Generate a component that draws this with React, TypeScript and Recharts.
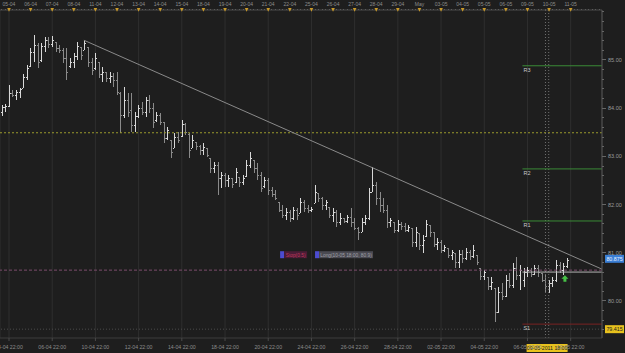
import React from "react";
import {
  ComposedChart,
  Bar,
  XAxis,
  YAxis,
  CartesianGrid,
  ReferenceLine,
  ReferenceDot,
} from "recharts";

// 4H bars, 04-04 14:00 .. 10-05 18:00 (index = bar number)
const highs = [
  84.07, 84.09, 84.48, 84.38, 84.38, 84.42, 84.71, 84.9, 85.25, 85.52,
  85.35, 85.35, 85.48, 85.48, 85.5, 85.37, 85.31, 85.25, 85.25, 85.04,
  85.15, 85.37, 85.27, 85.41, 85.27, 85.04, 85.15, 84.96, 84.85, 84.75,
  84.75, 84.73, 84.75, 84.34, 84.44, 84.32, 84.32, 83.92, 84.07, 84.13,
  84.23, 84.27, 84.11, 83.92, 83.9, 83.71, 83.61, 83.34, 83.49, 83.51,
  83.76, 83.69, 83.49, 83.44, 83.3, 83.24, 83.28, 83.17, 82.97, 82.88,
  82.88, 82.68, 82.66, 82.61, 82.55, 82.76, 82.57, 82.61, 82.93, 83.09,
  82.93, 82.86, 82.68, 82.57, 82.55, 82.37, 82.3, 82.05, 81.99, 81.93,
  81.89, 81.95, 81.93, 82.14, 82.1, 81.99, 81.95, 82.41, 82.24, 82.16,
  82.1, 81.95, 81.93, 81.89, 81.83, 81.72, 81.78, 81.93, 81.72, 81.54,
  81.72, 81.78, 82.34, 82.78, 82.47, 82.26, 82.14, 81.99, 81.72, 81.64,
  81.68, 81.64, 81.62, 81.58, 81.51, 81.54, 81.41, 81.37, 81.68, 81.58,
  81.43, 81.31, 81.27, 81.16, 81.1, 81.06, 81.0, 81.06, 81.06, 81.1,
  81.06, 81.16, 80.95, 80.68, 80.64, 80.5, 80.5, 80.27, 80.29, 80.37,
  80.54, 80.58, 80.79, 80.91, 80.75, 80.68, 80.71, 80.68, 80.75, 80.75,
  80.58, 80.54, 80.44, 80.5, 80.85, 80.81, 80.79, 80.89,
];
const lows = [
  83.84, 83.92, 84.02, 84.23, 84.17, 84.21, 84.42, 84.59, 84.85, 84.96,
  84.83, 84.96, 85.17, 85.25, 85.27, 85.17, 85.15, 84.94, 84.59, 84.83,
  84.83, 85.0, 85.0, 85.21, 84.85, 84.69, 84.79, 84.63, 84.54, 84.54,
  84.52, 84.44, 84.27, 83.49, 83.8, 83.82, 83.51, 83.51, 83.8, 83.86,
  83.82, 83.9, 83.59, 83.71, 83.65, 83.28, 83.34, 82.97, 83.17, 83.28,
  83.4, 83.44, 82.97, 83.17, 83.13, 83.03, 83.03, 82.99, 82.66, 82.66,
  82.2, 82.34, 82.37, 82.37, 82.34, 82.45, 82.37, 82.41, 82.57, 82.76,
  82.66, 82.51, 82.26, 82.34, 82.2, 82.16, 82.1, 81.85, 81.72, 81.68,
  81.64, 81.68, 81.68, 81.83, 81.85, 81.83, 81.85, 82.03, 82.05, 81.89,
  81.89, 81.72, 81.64, 81.54, 81.58, 81.62, 81.62, 81.54, 81.47, 81.27,
  81.43, 81.58, 81.68, 82.26, 81.99, 81.85, 81.83, 81.51, 81.54, 81.41,
  81.43, 81.47, 81.43, 81.43, 81.12, 81.12, 81.06, 81.0, 81.33, 81.33,
  81.12, 81.06, 81.0, 81.02, 80.89, 80.85, 80.68, 80.68, 80.79, 80.85,
  80.85, 80.89, 80.75, 80.44, 80.44, 80.23, 80.23, 79.56, 79.75, 80.02,
  80.08, 80.27, 80.27, 80.44, 80.23, 80.29, 80.5, 80.5, 80.54, 80.5,
  80.39, 80.19, 80.17, 80.29, 80.39, 80.58, 80.54, 80.68,
];
const opens = [
  83.92, 84.02, 84.05, 84.32, 84.27, 84.34, 84.42, 84.65, 84.88, 85.17,
  85.31, 85.0, 85.29, 85.41, 85.33, 85.37, 85.25, 85.21, 85.04, 84.88,
  84.96, 85.08, 85.27, 85.21, 85.27, 84.96, 84.83, 84.96, 84.71, 84.75,
  84.63, 84.67, 84.59, 84.32, 83.86, 84.17, 83.96, 83.65, 83.84, 84.0,
  83.92, 84.17, 84.0, 83.76, 83.86, 83.71, 83.38, 83.34, 83.17, 83.4,
  83.42, 83.67, 83.46, 83.17, 83.3, 83.22, 83.13, 83.17, 82.97, 82.76,
  82.82, 82.55, 82.61, 82.51, 82.55, 82.47, 82.57, 82.47, 82.59, 82.82,
  82.93, 82.76, 82.61, 82.39, 82.51, 82.3, 82.22, 82.05, 81.89, 81.78,
  81.85, 81.72, 81.89, 81.83, 82.05, 81.93, 81.89, 82.03, 82.24, 82.14,
  81.99, 81.95, 81.78, 81.85, 81.64, 81.72, 81.66, 81.74, 81.64, 81.51,
  81.43, 81.64, 81.72, 82.26, 82.41, 82.14, 81.99, 81.89, 81.64, 81.64,
  81.47, 81.6, 81.56, 81.47, 81.51, 81.22, 81.41, 81.16, 81.35, 81.58,
  81.43, 81.18, 81.22, 81.06, 81.1, 80.95, 81.0, 80.81, 80.98, 80.89,
  81.02, 80.93, 80.95, 80.68, 80.52, 80.5, 80.31, 80.27, 79.77, 80.19,
  80.1, 80.44, 80.33, 80.68, 80.54, 80.44, 80.6, 80.64, 80.56, 80.68,
  80.58, 80.44, 80.31, 80.37, 80.44, 80.75, 80.64, 80.73,
];
const closes = [
  84.02, 84.05, 84.32, 84.27, 84.34, 84.4, 84.65, 84.83, 85.17, 85.31,
  84.96, 85.29, 85.41, 85.33, 85.41, 85.25, 85.21, 85.04, 84.75, 84.96,
  85.08, 85.29, 85.1, 85.35, 84.96, 84.79, 85.04, 84.71, 84.75, 84.63,
  84.67, 84.59, 84.34, 83.86, 84.17, 83.92, 83.65, 83.84, 84.0, 83.92,
  84.17, 84.0, 83.71, 83.86, 83.71, 83.38, 83.55, 83.09, 83.4, 83.34,
  83.67, 83.51, 83.13, 83.34, 83.22, 83.13, 83.2, 83.03, 82.76, 82.82,
  82.55, 82.61, 82.51, 82.55, 82.43, 82.68, 82.47, 82.55, 82.82, 82.97,
  82.76, 82.61, 82.34, 82.51, 82.3, 82.22, 82.14, 81.89, 81.78, 81.85,
  81.72, 81.89, 81.78, 82.05, 81.93, 81.89, 81.91, 82.26, 82.14, 81.99,
  82.05, 81.78, 81.85, 81.64, 81.72, 81.66, 81.74, 81.64, 81.51, 81.43,
  81.64, 81.72, 82.26, 82.41, 82.14, 81.99, 81.89, 81.64, 81.68, 81.47,
  81.6, 81.56, 81.47, 81.54, 81.22, 81.43, 81.16, 81.27, 81.6, 81.43,
  81.18, 81.22, 81.06, 81.12, 80.95, 81.02, 80.81, 80.98, 80.89, 81.02,
  80.93, 81.06, 80.81, 80.52, 80.6, 80.31, 80.39, 79.77, 80.19, 80.1,
  80.44, 80.33, 80.68, 80.54, 80.64, 80.6, 80.64, 80.56, 80.68, 80.6,
  80.44, 80.31, 80.37, 80.44, 80.75, 80.64, 80.73, 80.85,
];

const dayLabels = [
  "05-04", "06-04", "07-04", "08-04", "11-04", "12-04", "13-04", "14-04",
  "15-04", "18-04", "19-04", "20-04", "21-04", "22-04", "25-04", "26-04",
  "27-04", "28-04", "29-04", "May", "03-05", "04-05", "05-05", "06-05",
  "09-05", "10-05", "11-05",
];
const sessionLabels = [
  "04-04 22:00", "06-04 22:00", "10-04 22:00", "12-04 22:00", "14-04 22:00",
  "18-04 22:00", "20-04 22:00", "24-04 22:00", "26-04 22:00", "28-04 22:00",
  "02-05 22:00", "04-05 22:00", "06-05 22:00", "10-05 22:00",
];
const priceLabels = [80, 81, 82, 83, 84, 85];

// levels
const pivotNames = ["R3", "R2", "R1", "S1"];
const pivotLevels = [84.88, 82.74, 81.66, 79.52];
const pivotStart = 144.6;
const dottedLevel = 83.49;
const entryLevel = 80.64;
const positionLevel = 80.6;
const trendStart = { x: 22.8, y: 85.41 };
const trendEnd = { x: 166.7, y: 80.66 };
const lastPrice = 80.875;
const cursorPrice = 79.415;
const cursorBar = 151;
const cursorText = "09-05-2011 18:00";
const signalBar = 156.4;
const signalPrice = 80.46;

const X_DOMAIN: [number, number] = [-0.5, 166.7];
const Y_DOMAIN: [number, number] = [79.232, 86.037];
const FONT = "'Liberation Sans', Arial, sans-serif";

const rows = highs.map((h, i) => ({
  i,
  range: [lows[i], h],
  high: h,
  low: lows[i],
  open: opens[i],
  close: closes[i],
}));

const topTicks = Array.from({ length: 167 }, (_, k) => k);
const sessionTicks = sessionLabels.map((_, k) => 2 + 12 * k);
const priceTicks = Array.from({ length: 34 }, (_, k) => +(79.4 + 0.2 * k).toFixed(1));

const OhlcBar = (props: any) => {
  const { x, y, width, height, payload } = props;
  if (!payload) return null;
  const top = Math.min(y, y + height);
  const h = Math.abs(height);
  const cx = Math.round(x + width / 2);
  const { high, low, open, close } = payload;
  const py = (v: number) => Math.round(top + ((high - v) / (high - low)) * h);
  const color = close >= open ? "#d8d8d8" : "#8a8a8a";
  return (
    <g shapeRendering="crispEdges">
      <rect x={cx} y={top} width={1} height={Math.max(1, h)} fill={color} />
      <rect x={cx - 1} y={py(open)} width={1} height={1} fill={color} />
      <rect x={cx + 1} y={py(close)} width={1} height={1} fill={color} />
    </g>
  );
};

const TopTick = (props: any) => {
  const { x, y, payload } = props;
  const idx = payload.value;
  const d = (idx - 2) / 6;
  const isDay = Number.isInteger(d) && d >= 0 && d < dayLabels.length;
  if (!isDay) {
    return <line x1={x} x2={x} y1={y - 1.5} y2={y} stroke="#5a5a5a" shapeRendering="crispEdges" />;
  }
  return (
    <g>
      <text x={x} y={y - 4} textAnchor="middle" fontSize={5} fill="#8c8c8c" fontFamily={FONT}>
        {dayLabels[d]}
      </text>
      <path d={`M${x - 1.8},${y - 2} L${x + 1.8},${y - 2} L${x},${y + 1.8} Z`} fill="#c99a2a" />
    </g>
  );
};

const BottomTick = (props: any) => {
  const { x, y, payload } = props;
  const k = sessionTicks.indexOf(payload.value);
  return (
    <g>
      <line x1={x} x2={x} y1={y} y2={y + 3} stroke="#4a4a4a" />
      <text x={x} y={y + 11} textAnchor="middle" fontSize={5.2} fill="#8c8c8c" fontFamily={FONT}>
        {sessionLabels[k]}
      </text>
    </g>
  );
};

const PriceTick = (props: any) => {
  const { x, y, payload } = props;
  const v = payload.value;
  const major = priceLabels.some((p) => Math.abs(p - v) < 0.01);
  return (
    <g>
      <line x1={x} x2={x + (major ? 4 : 2)} y1={y} y2={y} stroke="#666" shapeRendering="crispEdges" />
      {major && (
        <text x={x + 6} y={y + 2} fontSize={5.5} fill="#9a9a9a" fontFamily={FONT}>
          {v.toFixed(2)}
        </text>
      )}
    </g>
  );
};

const priceTag = (text: string, bg: string, fg: string) => (p: any) => (
  <g>
    <rect x={p.cx + 3} y={p.cy - 4} width={19} height={8} fill={bg} />
    <text x={p.cx + 12.5} y={p.cy + 2} textAnchor="middle" fontSize={5.3} fill={fg} fontFamily={FONT}>
      {text}
    </text>
  </g>
);

const pivotColor = (name: string) => (name.startsWith("S") ? "#7a2323" : "#3a8a36");

export default function App() {
  return (
    <div style={{ position: "absolute", left: 0, top: 0, width: 625, height: 353, background: "#1e1e1e" }}>
      <ComposedChart width={625} height={353} data={rows} margin={{ top: 0, right: 0, bottom: 0, left: 0 }}>
        <XAxis
          xAxisId="top"
          orientation="top"
          type="number"
          dataKey="i"
          domain={X_DOMAIN}
          allowDataOverflow
          ticks={topTicks}
          interval={0}
          height={10}
          tickSize={0}
          tickMargin={0}
          tick={<TopTick />}
          axisLine={{ stroke: "#4a4a4a" }}
        />
        <XAxis
          xAxisId="bottom"
          type="number"
          dataKey="i"
          domain={X_DOMAIN}
          allowDataOverflow
          ticks={sessionTicks}
          interval={0}
          height={15}
          tickSize={0}
          tickMargin={0}
          tick={<BottomTick />}
          axisLine={{ stroke: "#3c3c3c" }}
        />
        <YAxis
          orientation="right"
          type="number"
          domain={Y_DOMAIN}
          allowDataOverflow
          ticks={priceTicks}
          interval={0}
          width={23}
          tickSize={0}
          tickMargin={0}
          tick={<PriceTick />}
          axisLine={{ stroke: "#555" }}
        />
        <CartesianGrid xAxisId="bottom" horizontal={false} stroke="#2f2f2f" />

        <ReferenceLine xAxisId="bottom" y={dottedLevel} stroke="#9a9a2c" strokeDasharray="2 2" />
        <ReferenceLine xAxisId="bottom" y={entryLevel} stroke="#7c4c6c" strokeDasharray="3 2" />
        <ReferenceLine xAxisId="bottom" y={cursorPrice} stroke="#4a4a4a" strokeDasharray="1 2" />
        <ReferenceLine xAxisId="bottom" x={cursorBar} stroke="#707070" strokeDasharray="1 2" />
        <ReferenceLine xAxisId="bottom" x={cursorBar + 0.9} stroke="#707070" strokeDasharray="1 2" />
        <ReferenceLine
          xAxisId="bottom"
          segment={[trendStart, trendEnd]}
          stroke="#8a8a8a"
          ifOverflow="visible"
        />
        {pivotLevels.map((lvl, k) => (
          <ReferenceLine
            key={pivotNames[k]}
            xAxisId="bottom"
            segment={[{ x: pivotStart, y: lvl }, { x: X_DOMAIN[1], y: lvl }]}
            stroke={pivotColor(pivotNames[k])}
          />
        ))}
        {pivotLevels.map((lvl, k) => (
          <ReferenceDot
            key={"t" + pivotNames[k]}
            xAxisId="bottom"
            x={pivotStart}
            y={lvl}
            r={1}
            ifOverflow="visible"
            shape={(p: any) => (
              <text x={p.cx + 1} y={p.cy + 6} fontSize={5.5} fill="#c8c8c8" fontFamily={FONT}>
                {pivotNames[k]}
              </text>
            )}
          />
        ))}
        <ReferenceLine
          xAxisId="bottom"
          segment={[{ x: pivotStart, y: positionLevel }, { x: X_DOMAIN[1], y: positionLevel }]}
          stroke="#b4b4b4"
        />

        <Bar
          xAxisId="bottom"
          dataKey="range"
          barSize={3}
          shape={<OhlcBar />}
          isAnimationActive={false}
        />

        <ReferenceDot
          xAxisId="bottom"
          x={77.3}
          y={80.96}
          r={1}
          shape={(p: any) => (
            <g>
              <rect x={p.cx} y={p.cy - 3.5} width={4} height={7} fill="#4c4cd0" />
              <rect x={p.cx + 4} y={p.cy - 3.5} width={23} height={7} fill="#4a1c36" />
              <text x={p.cx + 15.5} y={p.cy + 2} textAnchor="middle" fontSize={4.8} fill="#c03a5c" fontFamily={FONT}>
                Stop(0.5)
              </text>
            </g>
          )}
        />
        <ReferenceDot
          xAxisId="bottom"
          x={87}
          y={80.96}
          r={1}
          shape={(p: any) => (
            <g>
              <rect x={p.cx} y={p.cy - 3.5} width={4} height={7} fill="#4c4cd0" />
              <rect x={p.cx + 4} y={p.cy - 3.5} width={54} height={7} fill="#4a4a52" />
              <text x={p.cx + 31} y={p.cy + 2} textAnchor="middle" fontSize={4.8} fill="#a0a0a8" fontFamily={FONT}>
                Long(10-05 18:00, 80.9)
              </text>
            </g>
          )}
        />
        <ReferenceDot
          xAxisId="bottom"
          x={signalBar}
          y={signalPrice}
          r={1}
          shape={(p: any) => (
            <path
              d={`M${p.cx},${p.cy - 3.5} L${p.cx + 3.5},${p.cy} L${p.cx + 1.5},${p.cy} L${p.cx + 1.5},${p.cy + 3} L${p.cx - 1.5},${p.cy + 3} L${p.cx - 1.5},${p.cy} L${p.cx - 3.5},${p.cy} Z`}
              fill="#46c046"
            />
          )}
        />
        <ReferenceDot
          xAxisId="bottom"
          x={X_DOMAIN[1]}
          y={lastPrice}
          r={1}
          ifOverflow="visible"
          shape={priceTag(lastPrice.toFixed(3), "#3a7ed4", "#e8f0ff")}
        />
        <ReferenceDot
          xAxisId="bottom"
          x={X_DOMAIN[1]}
          y={cursorPrice}
          r={1}
          ifOverflow="visible"
          shape={priceTag(cursorPrice.toFixed(3), "#e8c21e", "#202020")}
        />
        <ReferenceDot
          xAxisId="bottom"
          x={cursorBar + 0.45}
          y={Y_DOMAIN[0]}
          r={1}
          ifOverflow="visible"
          shape={(p: any) => (
            <g>
              <rect x={p.cx - 20.5} y={p.cy + 6} width={41} height={8} fill="#e8c21e" />
              <text x={p.cx} y={p.cy + 12} textAnchor="middle" fontSize={5.2} fill="#202020" fontFamily={FONT}>
                {cursorText}
              </text>
            </g>
          )}
        />
      </ComposedChart>
    </div>
  );
}
